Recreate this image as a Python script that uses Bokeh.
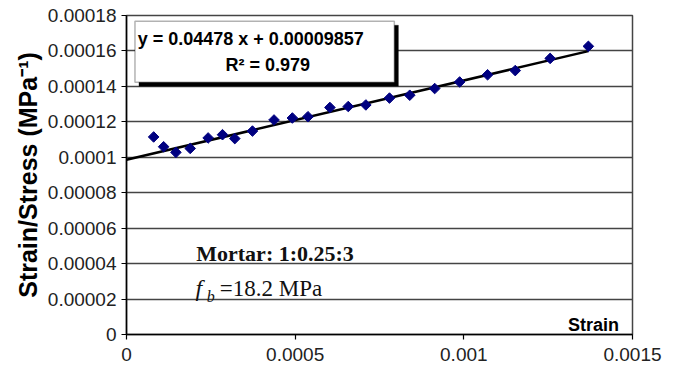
import numpy as np
from bokeh.plotting import figure
from bokeh.models import Label, BoxAnnotation, FixedTicker, Range1d
from bokeh.embed import file_html
from bokeh.resources import INLINE

# ---- data ----
strain = [8.05e-5, 1.101e-4, 1.465e-4, 1.888e-4, 2.420e-4, 2.846e-4, 3.210e-4,
          3.734e-4, 4.373e-4, 4.917e-4, 5.379e-4, 6.030e-4, 6.574e-4, 7.095e-4,
          7.796e-4, 8.397e-4, 9.136e-4, 9.876e-4, 1.0704e-3, 1.1524e-3,
          1.2559e-3, 1.3692e-3]
strain_over_stress = [1.1147e-4, 1.0593e-4, 1.0277e-4, 1.0499e-4, 1.1091e-4,
                      1.1274e-4, 1.1053e-4, 1.1479e-4, 1.2105e-4, 1.2216e-4,
                      1.2288e-4, 1.2809e-4, 1.2864e-4, 1.2953e-4, 1.3341e-4,
                      1.3501e-4, 1.3878e-4, 1.4249e-4, 1.4654e-4, 1.4892e-4,
                      1.5579e-4, 1.6260e-4]
fit_slope = 0.04478
fit_intercept = 0.00009857
fit_r2 = 0.979

x_ticks = [0, 0.0005, 0.001, 0.0015]
x_tick_labels = ["0", "0.0005", "0.001", "0.0015"]
y_ticks = [0, 0.00002, 0.00004, 0.00006, 0.00008, 0.0001, 0.00012, 0.00014,
           0.00016, 0.00018]
y_tick_labels = ["0", "0.00002", "0.00004", "0.00006", "0.00008", "0.0001",
                 "0.00012", "0.00014", "0.00016", "0.00018"]

eq_text = "y = 0.04478 x  + 0.00009857"
r2_text = "R\u00b2 = 0.979"
mortar_text = "Mortar: 1:0.25:3"
fb_value_text = "=18.2 MPa"
x_title = "Strain"
y_title = "Strain/Stress (MPa\u207b\u00b9)"

SANS = "Liberation Sans"
SERIF = "Liberation Serif"

p = figure(width=681, height=369, output_backend="svg", toolbar_location=None,
           x_range=Range1d(0, 0.0015), y_range=Range1d(0, 0.00018),
           min_border_left=126, min_border_right=49, min_border_top=15,
           min_border_bottom=35, background_fill_color="white",
           border_fill_color="white")

p.outline_line_color = "#444444"
p.outline_line_width = 1.5

p.xgrid.visible = False
p.ygrid.grid_line_color = "#444444"
p.ygrid.grid_line_width = 1.4

for ax, ticks, labels in ((p.xaxis[0], x_ticks, x_tick_labels),
                          (p.yaxis[0], y_ticks, y_tick_labels)):
    ax.ticker = FixedTicker(ticks=ticks)
    ax.major_label_overrides = dict(zip(ticks, labels))
    ax.minor_tick_line_color = None
    ax.major_tick_in = 0
    ax.major_tick_out = 5
    ax.axis_line_color = "black"
    ax.axis_line_width = 1.5
    ax.major_tick_line_color = "black"
    ax.major_tick_line_width = 1.2
    ax.major_label_text_font = SANS
    ax.major_label_text_font_size = "19px"
    ax.major_label_text_color = "#222222"

p.xaxis.major_label_standoff = 8
p.yaxis.major_label_standoff = 5

p.yaxis.axis_label = y_title
p.yaxis.axis_label_text_font = SANS
p.yaxis.axis_label_text_font_style = "bold"
p.yaxis.axis_label_text_font_size = "25px"
p.yaxis.axis_label_text_color = "black"
p.yaxis.axis_label_standoff = 3

# trend line
line_x = [0, max(strain)]
line_y = [fit_slope * v + fit_intercept for v in line_x]
p.line(line_x, line_y, line_color="black", line_width=2.5)

# points
p.scatter(strain, strain_over_stress, marker="square", angle=np.pi / 4,
          size=7.5, fill_color="#000080", line_color="#000080")

# equation box with shadow
p.add_layout(BoxAnnotation(left=3.7e-5, right=8.06e-4, top=1.745e-4, bottom=1.401e-4,
                           fill_color="black", fill_alpha=1, line_color="black",
                           line_width=1))
p.add_layout(BoxAnnotation(left=2.51e-5, right=7.94e-4, top=1.768e-4, bottom=1.424e-4,
                           fill_color="white", fill_alpha=1, line_color="black",
                           line_width=1.5))
p.add_layout(Label(x=3.3e-5, y=1.670e-4, text=eq_text, text_font=SANS,
                   text_font_style="bold", text_font_size="18px",
                   text_baseline="middle", text_align="left", text_color="black"))
p.add_layout(Label(x=4.19e-4, y=1.521e-4, text=r2_text, text_font=SANS,
                   text_font_style="bold", text_font_size="18px",
                   text_baseline="middle", text_align="center", text_color="black"))

# notes
p.add_layout(Label(x=2.068e-4, y=4.571e-5, text=mortar_text, text_font=SERIF,
                   text_font_style="bold", text_font_size="22px",
                   text_baseline="alphabetic", text_align="left", text_color="#111111"))
p.add_layout(Label(x=2.047e-4, y=2.613e-5, text="f", text_font=SERIF,
                   text_font_style="italic", text_font_size="24px",
                   text_baseline="alphabetic", text_align="left", text_color="#111111"))
p.add_layout(Label(x=2.382e-4, y=2.144e-5, text="b", text_font=SERIF,
                   text_font_style="italic", text_font_size="16px",
                   text_baseline="alphabetic", text_align="left", text_color="#111111"))
p.add_layout(Label(x=2.766e-4, y=2.613e-5, text=fb_value_text, text_font=SERIF,
                   text_font_size="23px",
                   text_baseline="alphabetic", text_align="left", text_color="#111111"))

# x axis title inside the plot
p.add_layout(Label(x=1.4601e-3, y=5.1e-6, text=x_title, text_font=SANS,
                   text_font_style="bold", text_font_size="18px",
                   text_baseline="alphabetic", text_align="right", text_color="black"))

open("out.html", "w").write(file_html(p, INLINE))
